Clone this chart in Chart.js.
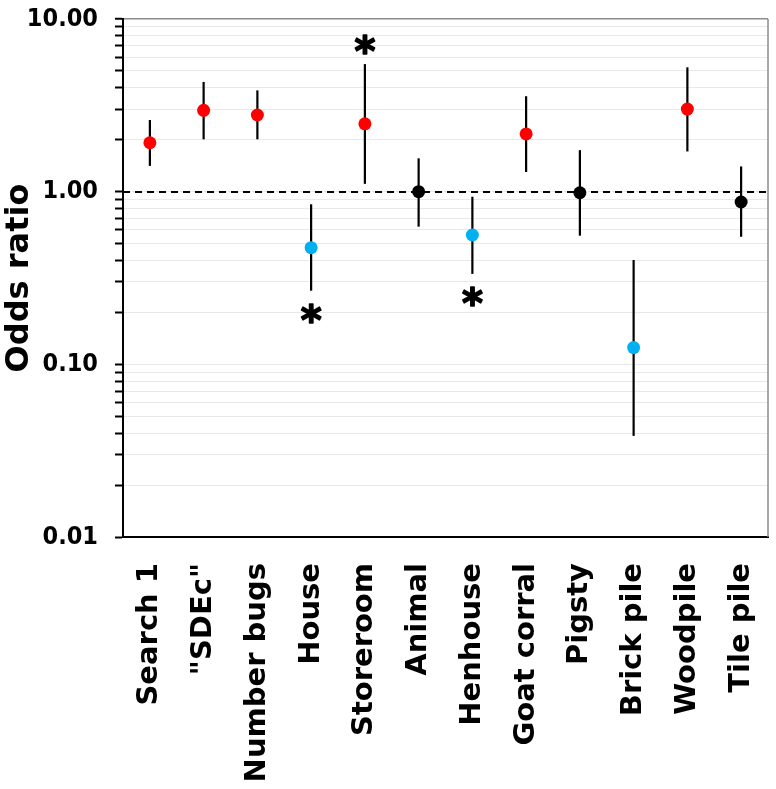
<!DOCTYPE html>
<html><head><meta charset="utf-8">
<script src="https://cdn.jsdelivr.net/npm/chart.js@4"></script>
<style>html,body{margin:0;padding:0;background:#fff}</style>
</head><body>
<canvas id="c" width="776" height="789"></canvas>
<script>
const categories = ['Search 1', '"SDEc"', 'Number bugs', 'House', 'Storeroom', 'Animal', 'Henhouse', 'Goat corral', 'Pigsty', 'Brick pile', 'Woodpile', 'Tile pile'];
const oddsRatio = [1.92, 2.96, 2.78, 0.474, 2.47, 1.00, 0.561, 2.16, 0.986, 0.125, 3.01, 0.871];
const ciUpper   = [2.60, 4.32, 3.86, 0.845, 5.48, 1.56, 0.935, 3.57, 1.74, 0.402, 5.25, 1.40];
const ciLower   = [1.41, 2.01, 2.01, 0.267, 1.11, 0.627, 0.334, 1.30, 0.556, 0.0385, 1.71, 0.548];
const effect    = ['up', 'up', 'up', 'down', 'up', 'none', 'down', 'up', 'none', 'down', 'up', 'none'];
const significance = ['', '', '', 'below', 'above', '', 'below', '', '', '', '', ''];
const yTickValues = [0.01, 0.1, 1, 10];
const yTickLabels = ['0.01', '0.10', '1.00', '10.00'];
const referenceLine = 1;
const yTitle = 'Odds ratio';

const effectColors = { up: '#ff0000', down: '#00b0f0', none: '#000000' };
const pointColors = effect.map(e => effectColors[e]);

const errorBarPlugin = {
  id: 'errorBars',
  beforeDatasetsDraw(chart) {
    const { ctx, chartArea, scales } = chart;
    const y = scales.y, x = scales.x;
    ctx.save();
    ctx.strokeStyle = '#000';
    ctx.lineWidth = 2;
    ctx.setLineDash([7, 5]);
    const yr = Math.round(y.getPixelForValue(referenceLine));
    ctx.beginPath();
    ctx.moveTo(chartArea.left, yr);
    ctx.lineTo(chartArea.right, yr);
    ctx.stroke();
    ctx.setLineDash([]);
    ctx.lineWidth = 2.2;
    ctx.strokeStyle = '#000';
    categories.forEach((c, i) => {
      const px = x.getPixelForValue(i);
      ctx.beginPath();
      ctx.moveTo(px, y.getPixelForValue(ciLower[i]));
      ctx.lineTo(px, y.getPixelForValue(ciUpper[i]));
      ctx.stroke();
    });
    ctx.restore();
  },
  afterDatasetsDraw(chart) {
    const { ctx, scales } = chart;
    const y = scales.y, x = scales.x;
    ctx.save();
    ctx.fillStyle = '#000';
    ctx.strokeStyle = '#000';
    ctx.lineWidth = 1.6;
    ctx.lineJoin = 'round';
    ctx.font = 'bold 40px "DejaVu Sans"';
    ctx.textAlign = 'center';
    ctx.textBaseline = 'alphabetic';
    const m = ctx.measureText('*');
    const shift = (m.actualBoundingBoxAscent - m.actualBoundingBoxDescent) / 2;
    significance.forEach((s, i) => {
      if (!s) return;
      const px = x.getPixelForValue(i);
      let cy;
      if (s === 'above') cy = y.getPixelForValue(ciUpper[i]) - 20;
      else cy = y.getPixelForValue(ciLower[i]) + 22;
      ctx.fillText('*', px, cy + shift);
      ctx.strokeText('*', px, cy + shift);
    });
    ctx.restore();
  },
  afterDraw(chart) {
    const { ctx, chartArea } = chart;
    ctx.save();
    ctx.strokeStyle = '#8c8c8c';
    ctx.lineWidth = 1.5;
    ctx.beginPath();
    ctx.moveTo(chartArea.right, chartArea.top);
    ctx.lineTo(chartArea.right, chartArea.bottom);
    ctx.stroke();
    ctx.restore();
  }
};

new Chart(document.getElementById('c'), {
  type: 'line',
  data: {
    labels: categories,
    datasets: [{
      data: oddsRatio,
      showLine: false,
      pointRadius: 6.5,
      pointHoverRadius: 6.5,
      pointBorderWidth: 0,
      pointBackgroundColor: pointColors,
      pointBorderColor: pointColors
    }]
  },
  options: {
    responsive: false,
    animation: false,
    events: [],
    layout: { padding: { top: 19, right: 8, left: 0, bottom: 0 } },
    plugins: { legend: { display: false }, tooltip: { enabled: false } },
    scales: {
      x: {
        type: 'category',
        offset: true,
        grid: { display: false, drawTicks: false },
        border: { display: true, color: '#000', width: 2 },
        ticks: {
          autoSkip: false, maxRotation: 90, minRotation: 90, padding: 26,
          color: '#000',
          font: { family: '"DejaVu Sans"', weight: 'bold', size: 29 }
        },
        afterFit(s) { s.height = 252; s.paddingLeft = 0; s.paddingRight = 0; }
      },
      y: {
        type: 'logarithmic',
        min: 0.01, max: 10,
        afterBuildTicks(s) {
          const t = [];
          yTickValues.forEach((v, k) => {
            if (k === yTickValues.length - 1) { t.push({ value: v }); return; }
            for (let j = 1; j <= 9; j++) t.push({ value: +(v * j).toPrecision(3) });
          });
          s.ticks = t;
        },
        afterFit(s) { s.width = 123; s.paddingTop = 0; s.paddingBottom = 0; },
        grid: {
          color: c => (c.tick && c.tick.value === 10) ? '#8c8c8c' : '#e9e9e9',
          lineWidth: c => (c.tick && c.tick.value === 10) ? 1.5 : 1,
          tickColor: '#000',
          tickLength: 8,
          tickWidth: 2
        },
        border: { display: true, color: '#000', width: 2 },
        ticks: {
          autoSkip: false,
          padding: 17,
          color: '#000',
          font: { family: '"DejaVu Sans Condensed", "DejaVu Sans"', weight: 'bold', size: 25 },
          callback(v) {
            const k = yTickValues.findIndex(t => Math.abs(t - v) < 1e-9);
            return k >= 0 ? yTickLabels[k] : '';
          }
        },
        title: {
          display: true, text: yTitle, color: '#000',
          padding: { top: 0, bottom: 0 },
          font: { family: '"DejaVu Sans"', weight: 'bold', size: 32 }
        }
      }
    }
  },
  plugins: [errorBarPlugin]
});
</script>
</body></html>
